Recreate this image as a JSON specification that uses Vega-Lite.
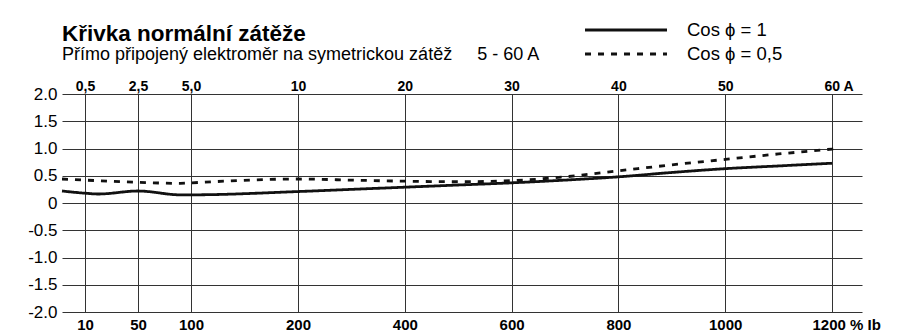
{
  "$schema": "https://vega.github.io/schema/vega-lite/v6.json",
  "width": 800,
  "height": 218,
  "autosize": {"type": "none"},
  "padding": {"left": 62, "top": 94, "right": 44, "bottom": 21},
  "background": "white",
  "title": {
    "text": "Křivka normální zátěže",
    "subtitle": "Přímo připojený elektroměr na symetrickou zátěž\u00a0\u00a0\u00a0\u00a0 5 - 60 A",
    "anchor": "start",
    "frame": "group",
    "font": "Liberation Sans",
    "fontSize": 22.5,
    "fontWeight": "bold",
    "color": "#000000",
    "subtitleFont": "Liberation Sans",
    "subtitleFontSize": 18,
    "subtitleColor": "#000000",
    "subtitlePadding": 1,
    "offset": -46
  },
  "data": {
    "values": [
      {"s": "Cos ϕ = 1", "ib": 5, "err": 0.22},
      {"s": "Cos ϕ = 1", "ib": 10, "err": 0.18},
      {"s": "Cos ϕ = 1", "ib": 20, "err": 0.165},
      {"s": "Cos ϕ = 1", "ib": 50, "err": 0.22},
      {"s": "Cos ϕ = 1", "ib": 90, "err": 0.15},
      {"s": "Cos ϕ = 1", "ib": 100, "err": 0.15},
      {"s": "Cos ϕ = 1", "ib": 200, "err": 0.21},
      {"s": "Cos ϕ = 1", "ib": 300, "err": 0.25},
      {"s": "Cos ϕ = 1", "ib": 400, "err": 0.29},
      {"s": "Cos ϕ = 1", "ib": 500, "err": 0.33},
      {"s": "Cos ϕ = 1", "ib": 600, "err": 0.37},
      {"s": "Cos ϕ = 1", "ib": 700, "err": 0.42},
      {"s": "Cos ϕ = 1", "ib": 800, "err": 0.48},
      {"s": "Cos ϕ = 1", "ib": 900, "err": 0.56},
      {"s": "Cos ϕ = 1", "ib": 1000, "err": 0.63},
      {"s": "Cos ϕ = 1", "ib": 1100, "err": 0.68},
      {"s": "Cos ϕ = 1", "ib": 1200, "err": 0.73},
      {"s": "Cos ϕ = 0,5", "ib": 5, "err": 0.44},
      {"s": "Cos ϕ = 0,5", "ib": 10, "err": 0.42},
      {"s": "Cos ϕ = 0,5", "ib": 50, "err": 0.38},
      {"s": "Cos ϕ = 0,5", "ib": 90, "err": 0.36},
      {"s": "Cos ϕ = 0,5", "ib": 100, "err": 0.37},
      {"s": "Cos ϕ = 0,5", "ib": 200, "err": 0.44},
      {"s": "Cos ϕ = 0,5", "ib": 300, "err": 0.42},
      {"s": "Cos ϕ = 0,5", "ib": 400, "err": 0.40},
      {"s": "Cos ϕ = 0,5", "ib": 500, "err": 0.39},
      {"s": "Cos ϕ = 0,5", "ib": 600, "err": 0.41},
      {"s": "Cos ϕ = 0,5", "ib": 700, "err": 0.48},
      {"s": "Cos ϕ = 0,5", "ib": 800, "err": 0.59},
      {"s": "Cos ϕ = 0,5", "ib": 900, "err": 0.70},
      {"s": "Cos ϕ = 0,5", "ib": 1000, "err": 0.80},
      {"s": "Cos ϕ = 0,5", "ib": 1100, "err": 0.90},
      {"s": "Cos ϕ = 0,5", "ib": 1200, "err": 0.99},
      {"s": "Cos ϕ = 0,5", "ib": 1210, "err": 1.0}
    ]
  },
  "layer": [
    {
      "mark": {"type": "line", "color": "#111111", "strokeWidth": 2.8, "interpolate": "monotone"},
      "encoding": {
        "x": {
          "field": "ib", "type": "quantitative",
          "scale": {"domain": [5, 10, 50, 100, 200, 1200, 1256], "range": [0, 23, 76, 129, 236, 770, 800], "nice": false, "zero": false},
          "axis": {
            "orient": "bottom", "title": null,
            "values": [10, 50, 100, 200, 400, 600, 800, 1000, 1200],
            "grid": true, "gridColor": "#333333", "gridWidth": 1, "gridOpacity": 1,
            "ticks": false, "domain": false,
            "labelFont": "Liberation Sans", "labelFontSize": 15, "labelFontWeight": "bold", "labelColor": "#000000",
            "labelPadding": 5,
            "labelExpr": "datum.value == 1200 ? '1200 % Ib' : format(datum.value, 'd')",
            "labelAlign": {"condition": {"test": "datum.value == 1200", "value": "left"}, "value": "center"},
            "labelOffset": {"condition": {"test": "datum.value == 1200", "value": -20}, "value": 0},
            "labelOverlap": false
          }
        },
        "y": {
          "field": "err", "type": "quantitative",
          "scale": {"domain": [-2, 2], "nice": false},
          "axis": {
            "title": null,
            "values": [-2, -1.5, -1, -0.5, 0, 0.5, 1, 1.5, 2],
            "grid": true, "gridColor": "#333333", "gridWidth": 1, "gridOpacity": 1,
            "ticks": false, "domain": false,
            "labelFont": "Liberation Sans", "labelFontSize": 17, "labelColor": "#000000",
            "labelPadding": 5,
            "labelExpr": "datum.value == 0 ? '0' : replace(format(datum.value, '.1f'), '\u2212', '-')"
          }
        },
        "strokeDash": {
          "field": "s", "type": "nominal",
          "scale": {"domain": ["Cos ϕ = 1", "Cos ϕ = 0,5"], "range": [[1, 0], [6, 7]]},
          "legend": {
            "title": null,
            "orient": "none",
            "legendX": 552,
            "legendY": -76,
            "padding": 0,
            "symbolType": "M -4 0 H 4",
            "symbolSize": 420,
            "symbolStrokeWidth": 3,
            "symbolStrokeColor": "#111111",
            "labelOffset": 49,
            "labelFont": "Liberation Sans",
            "labelFontSize": 18.5,
            "labelColor": "#000000",
            "rowPadding": 2
          }
        }
      }
    },
    {
      "mark": {"type": "point", "opacity": 0},
      "encoding": {
        "x": {
          "field": "ib", "type": "quantitative",
          "axis": {
            "orient": "top", "title": null,
            "values": [10, 50, 100, 200, 400, 600, 800, 1000, 1200],
            "grid": false, "ticks": false, "domain": false,
            "labelFont": "Liberation Sans", "labelFontSize": 14, "labelFontWeight": "bold", "labelColor": "#000000",
            "labelPadding": 1,
            "labelExpr": "datum.value == 1200 ? '60 A' : (datum.value <= 100 ? replace(format(datum.value / 20, '.1f'), '.', ',') : format(datum.value / 20, 'd'))",
            "labelAlign": {"condition": {"test": "datum.value == 1200", "value": "left"}, "value": "center"},
            "labelOffset": {"condition": {"test": "datum.value == 1200", "value": -8}, "value": 0},
            "labelOverlap": false
          }
        }
      }
    }
  ],
  "resolve": {"axis": {"x": "independent"}},
  "config": {"view": {"stroke": null}}
}
